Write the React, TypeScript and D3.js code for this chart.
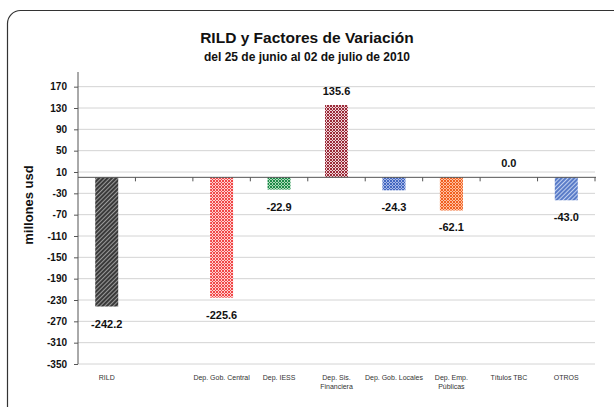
import React, { useRef, useEffect } from 'react';
import * as d3 from 'd3';

const categories = ['RILD', '', 'Dep. Gob. Central', 'Dep. IESS', 'Dep. Sis. Financiera', 'Dep. Gob. Locales', 'Dep. Emp. Públicas', 'Títulos TBC', 'OTROS'];
const labelLines = [['RILD'], [''], ['Dep. Gob. Central'], ['Dep. IESS'], ['Dep. Sis.', 'Financiera'], ['Dep. Gob. Locales'], ['Dep. Emp.', 'Públicas'], ['Títulos TBC'], ['OTROS']];
const values: (number | null)[] = [-242.2, null, -225.6, -22.9, 135.6, -24.3, -62.1, 0.0, -43.0];
const yTicks = [170, 130, 90, 50, 10, -30, -70, -110, -150, -190, -230, -270, -310, -350];

// pattern look per category: [main colour, light colour, kind]
const fills: [string, string, string][] = [
  ['#3a3a3a', '#9a9a9a', 'diag'],
  ['#ffffff', '#ffffff', 'check'],
  ['#f04848', '#ffd0d0', 'check'],
  ['#1e8a4a', '#a8dcb8', 'check'],
  ['#9a2a38', '#f0d4d8', 'check'],
  ['#4468c0', '#a8b8e8', 'check'],
  ['#f06020', '#ffc0a0', 'check'],
  ['#ffffff', '#ffffff', 'check'],
  ['#5a7cc8', '#c0d0f0', 'diag'],
];

export default function App() {
  const svgRef = useRef<SVGSVGElement | null>(null);

  useEffect(() => {
    if (!svgRef.current) return;
    const svg = d3.select(svgRef.current);
    svg.selectAll('*').remove();

    const width = 614;
    const height = 407;
    const margin = { top: 76, right: 19, bottom: 43, left: 78 };
    const font = 'Arial, "Liberation Sans", sans-serif';

    svg.attr('width', width).attr('height', height);

    const defs = svg.append('defs');
    fills.forEach((f, i) => {
      const p = defs.append('pattern')
        .attr('id', `pat${i}`)
        .attr('patternUnits', 'userSpaceOnUse')
        .attr('width', 3)
        .attr('height', 3);
      if (f[2] === 'diag') p.attr('patternTransform', 'rotate(45)');
      p.append('rect').attr('width', 3).attr('height', 3).attr('fill', f[1]);
      if (f[2] === 'diag') {
        p.append('rect').attr('width', 2).attr('height', 3).attr('fill', f[0]);
      } else {
        p.append('rect').attr('width', 2).attr('height', 2).attr('fill', f[0]);
        p.append('rect').attr('x', 2).attr('y', 2).attr('width', 1).attr('height', 1).attr('fill', f[0]);
      }
    });

    // outer rounded frame
    svg.append('rect')
      .attr('x', 7.5).attr('y', 10.5)
      .attr('width', 640).attr('height', 420)
      .attr('rx', 13).attr('ry', 13)
      .attr('fill', 'white')
      .attr('stroke', '#333')
      .attr('stroke-width', 1.2);

    svg.append('text')
      .attr('x', 307).attr('y', 43)
      .attr('text-anchor', 'middle')
      .attr('font-family', font).attr('font-size', '15.5px').attr('font-weight', 'bold')
      .attr('fill', '#111')
      .text('RILD y Factores de Variación');
    svg.append('text')
      .attr('x', 307).attr('y', 61)
      .attr('text-anchor', 'middle')
      .attr('font-family', font).attr('font-size', '12px').attr('font-weight', 'bold')
      .attr('fill', '#111')
      .text('del 25 de junio al 02 de julio de 2010');

    const x = d3.scaleBand<string>()
      .domain(categories.map((c, i) => `${i}`))
      .range([margin.left, width - margin.right])
      .paddingInner(0.6)
      .paddingOuter(0.3);
    const xStep = d3.scaleBand<string>()
      .domain(categories.map((c, i) => `${i}`))
      .range([margin.left, width - margin.right]);

    const y = d3.scaleLinear()
      .domain([-350, 190])
      .range([height - margin.bottom, margin.top]);

    // gridlines
    svg.append('g')
      .selectAll('line')
      .data(yTicks)
      .enter()
      .append('line')
      .attr('x1', margin.left)
      .attr('x2', width - margin.right)
      .attr('y1', d => y(d))
      .attr('y2', d => y(d))
      .attr('stroke', '#d4d4d4')
      .attr('stroke-width', 1);

    // bars
    svg.append('g')
      .selectAll('rect')
      .data(values.map((v, i) => ({ v, i })).filter(d => d.v !== null && d.v !== 0))
      .enter()
      .append('rect')
      .attr('x', d => x(`${d.i}`) || 0)
      .attr('width', x.bandwidth())
      .attr('y', d => y(Math.max(0, d.v as number)))
      .attr('height', d => Math.abs(y(d.v as number) - y(0)))
      .attr('fill', d => `url(#pat${d.i})`);

    // y axis
    const yAxis = d3.axisLeft(y).tickValues(yTicks).tickSize(4).tickSizeOuter(0).tickFormat(d => `${d}`);
    svg.append('g')
      .attr('transform', `translate(${margin.left},0)`)
      .call(yAxis)
      .call(g => g.select('.domain').attr('stroke', '#555').attr('d', `M0,${y(190) - 4}V${y(-350)}`))
      .call(g => g.selectAll('.tick line').attr('stroke', '#555'))
      .selectAll('text')
      .attr('font-family', font)
      .attr('font-size', '10px')
      .attr('font-weight', 'bold')
      .attr('fill', '#111')
      .attr('dx', '-4px');

    // zero axis with category boundary ticks
    const zx = svg.append('g');
    zx.append('line')
      .attr('x1', margin.left).attr('x2', width - margin.right + 1)
      .attr('y1', y(0)).attr('y2', y(0))
      .attr('stroke', '#555').attr('stroke-width', 1);
    zx.selectAll('.bt')
      .data(categories.map((c, i) => i))
      .enter()
      .append('line')
      .attr('x1', i => (xStep(`${i}`) || 0) + xStep.bandwidth())
      .attr('x2', i => (xStep(`${i}`) || 0) + xStep.bandwidth())
      .attr('y1', y(0)).attr('y2', y(0) + 4)
      .attr('stroke', '#555');

    // y title
    svg.append('text')
      .attr('transform', `translate(33,${(y(190) + y(-350)) / 2 - 15}) rotate(-90)`)
      .attr('text-anchor', 'middle')
      .attr('font-family', font).attr('font-size', '13px').attr('font-weight', 'bold')
      .attr('fill', '#111')
      .text('millones usd');

    // value labels
    svg.append('g')
      .selectAll('text')
      .data(values.map((v, i) => ({ v, i })).filter(d => d.v !== null))
      .enter()
      .append('text')
      .attr('x', d => (x(`${d.i}`) || 0) + x.bandwidth() / 2)
      .attr('y', d => (d.v as number) >= 0 ? y(d.v as number) - 10 : y(d.v as number) + 21)
      .attr('text-anchor', 'middle')
      .attr('font-family', font).attr('font-size', '11px').attr('font-weight', 'bold')
      .attr('fill', '#111')
      .text(d => (d.v as number).toFixed(1));

    // category labels
    const cl = svg.append('g');
    labelLines.forEach((lines, i) => {
      const t = cl.append('text')
        .attr('x', (x(`${i}`) || 0) + x.bandwidth() / 2)
        .attr('y', height - margin.bottom + 16)
        .attr('text-anchor', 'middle')
        .attr('font-family', font).attr('font-size', '7px')
        .attr('fill', '#333');
      lines.forEach((ln, k) => {
        t.append('tspan')
          .attr('x', (x(`${i}`) || 0) + x.bandwidth() / 2)
          .attr('dy', k === 0 ? 0 : 9)
          .text(ln);
      });
    });
  }, []);

  return (
    <div style={{ position: 'fixed', left: 0, top: 0, width: 614, height: 407, background: 'white' }}>
      <svg ref={svgRef} style={{ display: 'block' }} />
    </div>
  );
}
